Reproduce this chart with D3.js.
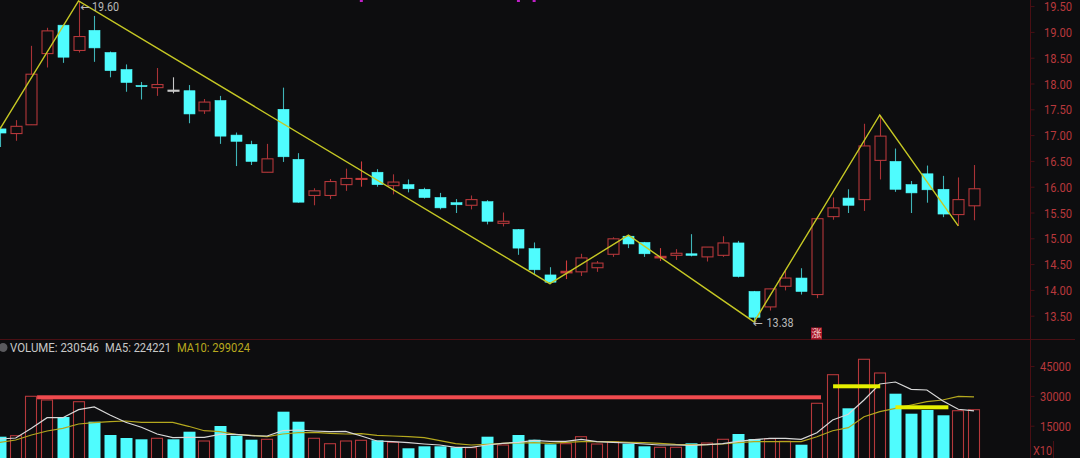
<!DOCTYPE html>
<html>
<head>
<meta charset="utf-8">
<script src="https://cdn.jsdelivr.net/npm/d3@7/dist/d3.min.js"></script>
<style>
html,body{margin:0;padding:0;background:#0d0d0f;overflow:hidden}
svg{display:block}
text{font-family:Roboto,"Noto Sans",sans-serif}
</style>
</head>
<body>
<svg id="chart" width="1080" height="458"></svg>
<script>
const opens=[17.12,17.03,17.20,18.58,19.13,18.64,19.03,18.60,18.27,17.96,17.92,17.87,17.86,17.47,17.67,17.00,16.82,16.28,17.50,16.53,15.83,15.83,16.04,16.15,16.28,16.02,16.04,15.95,15.79,15.69,15.64,15.71,15.29,15.17,14.80,14.29,14.33,14.35,14.43,14.69,15.04,14.92,14.62,14.67,14.70,14.64,14.67,14.91,13.97,13.67,14.07,14.23,13.91,15.42,15.78,15.75,16.51,16.49,16.04,16.25,15.95,15.46,15.63];
const closes=[17.04,17.17,18.18,19.02,18.51,18.91,18.69,18.25,18.02,17.94,17.98,17.87,17.41,17.64,16.98,16.88,16.49,16.54,16.58,15.70,15.92,16.10,16.16,16.16,16.04,16.09,15.96,15.79,15.59,15.65,15.75,15.33,15.33,14.81,14.39,14.15,14.36,14.62,14.52,14.99,14.89,14.70,14.65,14.71,14.67,14.83,14.91,14.26,13.47,14.02,14.23,13.97,15.38,15.59,15.64,16.79,16.98,15.95,15.88,15.94,15.47,15.75,15.96];
const highs=[17.16,17.29,18.73,19.08,19.13,19.60,19.31,18.62,18.37,18.03,18.30,18.12,17.97,17.70,17.76,17.05,16.89,16.83,17.92,16.65,15.97,16.15,16.35,16.49,16.34,16.24,16.14,15.98,15.88,15.76,15.83,15.74,15.50,15.18,14.92,14.44,14.57,14.70,14.56,15.02,15.06,14.93,14.81,14.79,15.08,14.83,15.04,14.95,13.98,14.02,14.37,14.42,15.39,15.79,15.95,17.22,17.39,16.74,16.11,16.41,16.21,16.18,16.42];
const lows=[16.77,16.89,17.20,18.31,18.40,18.60,18.42,18.12,17.84,17.69,17.76,17.81,17.23,17.41,16.83,16.40,16.42,16.28,16.48,15.69,15.64,15.76,15.92,16.00,16.00,15.85,15.89,15.77,15.56,15.49,15.56,15.27,15.23,14.68,14.29,14.11,14.21,14.27,14.35,14.64,14.81,14.64,14.56,14.58,14.65,14.55,14.64,14.24,13.38,13.60,13.99,13.91,13.84,15.36,15.49,15.53,16.14,15.90,15.49,15.69,15.41,15.24,15.35];
const volumes=[9464,9967,29800,27940,19380,27080,17015,10320,8810,8155,8660,8155,11980,7300,14850,9967,7950,8155,22050,17015,8660,5940,7300,7650,7650,6645,3625,4630,4630,4130,3930,9464,5285,10320,7950,5640,5940,9464,5790,6950,5940,4630,4130,4130,6140,6290,8155,10820,8305,8455,7150,5435,26280,40675,23760,48430,41530,31110,21040,22905,20240,22550,23054];
const ma5=[8300,8810,13690,19030,19030,23060,24420,20390,16710,14200,10820,8960,9160,9160,10670,10670,9970,9820,12480,12840,12330,11980,12180,9820,7300,6950,6440,5790,5290,4130,4130,5290,6140,6640,7650,7150,7150,8160,6950,6640,6290,5790,5290,5290,5130,5440,5940,7150,7950,8660,8660,8160,11480,17870,20740,27940,35990,37000,33330,32970,27590,23260,22422];
const ma10=[6640,7800,10320,12330,13690,15860,16510,17015,17370,16710,16710,16710,14700,12480,11980,10670,10170,9460,10820,11480,11680,11175,10820,10970,10170,9820,9460,8960,7450,5940,5290,5640,6140,6290,6440,6140,6640,6950,6950,6950,6640,6440,6140,5640,5440,5440,5790,6440,6950,6950,6950,6950,9460,12480,13990,19530,22050,23760,25420,27080,27940,29800,29500];
const zigzagIndex=[0,5,35,40,48,56,61];
const zigzagPrice=[17.12,19.60,14.12,15.06,13.38,17.39,15.24];
const priceTicks=[19.5,19,18.5,18,17.5,17,16.5,16,15.5,15,14.5,14,13.5];
const volumeTicks=[45000,30000,15000];
const signalIndex=[23,33,34];
const redLevel={from:2.36,to:52.26,value:29300};
const yellowLevels=[{from:53.03,to:56.03,value:34840},{from:57,to:60.37,value:24270}];
const extremes=[{index:5,price:19.60,label:"19.60",arrowDx:2,labelDx:13.5,dy:10},{index:48,price:13.38,label:"13.38",arrowDx:-1,labelDx:12.5,dy:5}];

const W=1080,H=458,BG="#0d0d0f";
const CYAN="#4ffcfe",CYANW="#3fb4b8",RED="#b5383b",REDW="#a93236",GRID="#4a0f14",TXT="#b8383c";
const svg=d3.select("#chart");
svg.append("rect").attr("width",W).attr("height",H).attr("fill",BG);

const x=d3.scaleLinear().domain([0,62]).range([0,974]);
const yP=d3.scaleLinear().domain([19.5,13.5]).range([6.1,315.7]);
const yV=d3.scaleLinear().domain([0,45000]).range([455.5,366.1]);
const panelBottom=H+3;

svg.append("defs").append("clipPath").attr("id","volClip").append("rect").attr("x",0).attr("y",341).attr("width",1029).attr("height",H-341);

// frame
svg.append("line").attr("x1",0).attr("x2",1075).attr("y1",339.5).attr("y2",339.5).attr("stroke",GRID);
svg.append("line").attr("x1",1030.5).attr("x2",1030.5).attr("y1",0).attr("y2",H).attr("stroke",GRID);
svg.append("line").attr("x1",1053.5).attr("x2",1053.5).attr("y1",441).attr("y2",H).attr("stroke",GRID);

// axes
function styleAxis(g,len){
  g.select(".domain").remove();
  g.selectAll(".tick line").attr("stroke",GRID);
  g.selectAll(".tick text").attr("fill",TXT).attr("font-size",12.5).attr("font-family","Roboto").attr("dy",".37em")
    .attr("textLength",len).attr("lengthAdjust","spacingAndGlyphs");
}
svg.append("g").attr("transform","translate(1030.5,0)")
  .call(d3.axisRight(yP).tickValues(priceTicks).tickSize(4).tickPadding(9.5).tickFormat(d3.format(".2f")))
  .call(styleAxis,28);
svg.append("g").attr("transform","translate(1030.5,0)")
  .call(d3.axisRight(yV).tickValues(volumeTicks).tickSize(4).tickPadding(5.5).tickFormat(d3.format("d")))
  .call(styleAxis,31);
svg.append("text").attr("x",1033).attr("y",454.5).attr("fill",TXT).attr("font-size",12.5).attr("textLength",19).attr("lengthAdjust","spacingAndGlyphs").text("X10");

// candles
const idx=d3.range(opens.length);
const isFlat=i=>Math.abs(opens[i]-closes[i])<0.04;
const wickCol=i=>{
  if(i===11) return "#c8c8c8";
  if(closes[i]>=opens[i]) return (isFlat(i)&&(i===23||i===36||i===42))?"#d23c3c":REDW;
  return CYANW;
};
svg.append("g").selectAll("line").data(idx).join("line")
  .attr("x1",i=>Math.round(x(i))+.5).attr("x2",i=>Math.round(x(i))+.5)
  .attr("y1",i=>yP(highs[i])).attr("y2",i=>yP(lows[i]))
  .attr("stroke",wickCol).attr("stroke-width",1.1);
svg.append("g").selectAll("rect").data(idx).join("rect")
  .attr("x",i=>Math.round(x(i))-5)
  .attr("width",11)
  .attr("y",i=>yP(Math.max(opens[i],closes[i])))
  .attr("height",i=>Math.max(1,Math.abs(yP(opens[i])-yP(closes[i]))))
  .attr("fill",i=>i===11?"#c8c8c8":(closes[i]<opens[i]?CYAN:(isFlat(i)?"#d23c3c":BG)))
  .attr("stroke",i=>i===11?"#c8c8c8":(closes[i]<opens[i]?CYAN:(isFlat(i)?"#c03a3a":RED)))
  .attr("stroke-width",i=>closes[i]<opens[i]?0.6:1.1);

// zigzag
svg.append("path").attr("fill","none").attr("stroke","#c6c824").attr("stroke-width",1.4)
  .attr("d",d3.line().x(d=>x(d)).y((d,k)=>yP(zigzagPrice[k]))(zigzagIndex));

// extremes
const ex=svg.append("g").selectAll("g").data(extremes).join("g");
ex.append("text").attr("x",d=>x(d.index)+d.arrowDx).attr("y",d=>yP(d.price)+d.dy)
  .attr("fill","#b8b8b8").attr("font-size",12).style("font-family","DejaVu Sans").text("←");
ex.append("text").attr("x",d=>x(d.index)+d.labelDx).attr("y",d=>yP(d.price)+d.dy)
  .attr("fill","#b8b8b8").attr("font-size",12.5).attr("textLength",27).attr("lengthAdjust","spacingAndGlyphs").text(d=>d.label);

// signal marks at the top
svg.append("g").selectAll("rect").data(signalIndex).join("rect")
  .attr("x",i=>x(i)-1.5).attr("y",0).attr("width",3).attr("height",2).attr("fill","#c020c8");

// rise badge
svg.append("rect").attr("x",811).attr("y",327.5).attr("width",11).attr("height",12).attr("fill","#a8182a");
svg.append("text").attr("x",816.5).attr("y",337).attr("text-anchor","middle").attr("fill","#f0c8c8").attr("font-size",10)
  .style("font-family",'"Noto Sans CJK SC"').text("涨");

// volume bars
const vol=svg.append("g").attr("clip-path","url(#volClip)");
vol.append("g").selectAll("rect").data(idx).join("rect")
  .attr("x",i=>Math.round(x(i))-5.5)
  .attr("width",i=>closes[i]<opens[i]||i===11?12:11)
  .attr("y",i=>yV(volumes[i]))
  .attr("height",i=>panelBottom-yV(volumes[i]))
  .attr("fill",i=>closes[i]<opens[i]||i===11?CYAN:BG)
  .attr("stroke",i=>closes[i]<opens[i]||i===11?"none":RED)
  .attr("stroke-width",1.1);

// moving averages
const maLine=d3.line().x((d,i)=>x(i)).y(d=>yV(d));
vol.append("path").attr("fill","none").attr("stroke","#b4a81e").attr("stroke-width",1.2).attr("d",maLine(ma10));
vol.append("path").attr("fill","none").attr("stroke","#d8d8d8").attr("stroke-width",1.2).attr("d",maLine(ma5));

// level markers
vol.append("rect").attr("x",x(redLevel.from)).attr("width",x(redLevel.to)-x(redLevel.from))
  .attr("y",yV(redLevel.value)-2).attr("height",4).attr("fill","#f04a4e");
vol.append("g").selectAll("rect").data(yellowLevels).join("rect")
  .attr("x",d=>x(d.from)).attr("width",d=>x(d.to)-x(d.from))
  .attr("y",d=>yV(d.value)-2).attr("height",4).attr("fill","#e6f000");

// legend
svg.append("circle").attr("cx",3).attr("cy",347.5).attr("r",4.5).attr("fill","#5a5a5e");
const legendText=["VOLUME: 230546","MA5: 224221","MA10: 299024"];
const legendX=[10,105,177];
const legendLen=[89,66,73];
const legendCol=["#c8c8c8","#c8c8c8","#b8a81e"];
svg.append("g").selectAll("text").data(legendText).join("text")
  .attr("x",(d,i)=>legendX[i]).attr("y",351.5).attr("fill",(d,i)=>legendCol[i]).attr("font-size",12.5)
  .attr("textLength",(d,i)=>legendLen[i]).attr("lengthAdjust","spacingAndGlyphs").text(d=>d);
</script>
</body>
</html>
